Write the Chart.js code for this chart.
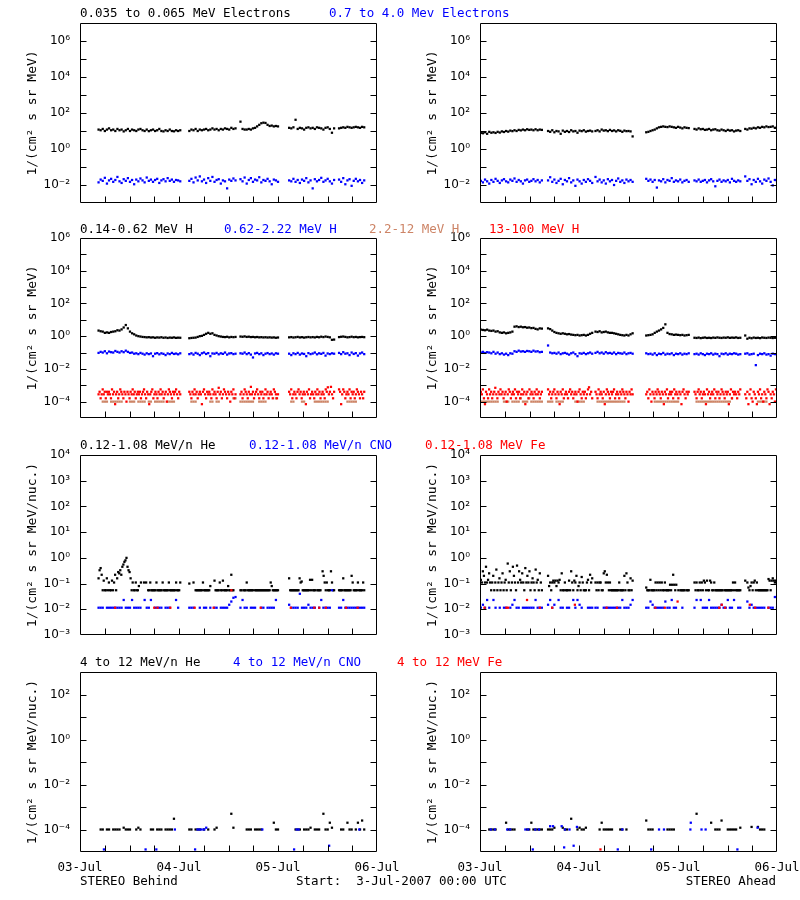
<!DOCTYPE html>
<html>
<head>
<meta charset="utf-8">
<script src="https://cdn.jsdelivr.net/npm/chart.js@4.4.1/dist/chart.umd.min.js"></script>
<style>
body { margin: 0; background: #fff; width: 800px; height: 900px; position: relative; overflow: hidden; font-family: "DejaVu Sans Mono", monospace; font-size: 12.5px; }
.t { position: absolute; white-space: pre; line-height: 14px; }
canvas { position: absolute; }
</style>
</head>
<body>
<script>
// time axis: hours after 3-Jul-2007 00:00 UTC
var dayHours = [0, 24, 48, 72];
var dayLabels = ['03-Jul', '04-Jul', '05-Jul', '06-Jul'];

// data segments (start hour, end hour) - samples spread evenly inside each
var segBehind = [[4.5, 24.3], [26.5, 37.7], [38.9, 48], [50.7, 61.6], [62.8, 68.9]];
var segAhead = [[0.2, 15], [16.5, 27.2], [28, 37], [40.3, 50.6], [52, 63.1], [64.3, 72]];

// ---- row 1 : electrons ----
var eLowBehind = [
  [12,11,13,10,12,14,11,12,10,13,11,12,9.5,11,13,10,12,11,10,12,13,11,10,12,9.8,11,12,10,11,13,10,9.5,11,10,12,10,9.6,11,10,11],
  [10,12,11,13,10,12,11,12,13,11,12,14,12,13,11,13,12,14,13,12,15,13,14],
  [33,13,12,12,13,12,14,15,18,22,27,29,28,22,19,20,18,19,18],
  [15,14,16,42,13,15,14,12,15,16,14,15,13,16,15,14,12,15,16,13,8,14],
  [14,15,16,15,17,16,15,16,17,16,15,17,16]
];
var eHighBehind = [
  [.014,.02,.017,.025,.012,.018,.022,.015,.019,.028,.016,.013,.021,.017,.024,.015,.019,.011,.02,.016,.023,.018,.014,.026,.017,.02,.015,.019,.022,.013,.018,.021,.016,.024,.017,.02,.015,.019,.018,.016],
  [.017,.022,.014,.026,.018,.03,.016,.02,.013,.024,.017,.028,.015,.019,.021,.012,.018,.016,.0065,.02,.017,.023,.018],
  [.021,.016,.026,.012,.019,.024,.015,.02,.018,.027,.014,.019,.017,.022,.016,.011,.02,.018,.015],
  [.018,.016,.022,.015,.019,.013,.02,.017,.024,.014,.018,.0065,.021,.016,.019,.025,.015,.018,.022,.016,.012,.019],
  [.02,.015,.024,.011,.018,.021,.009,.017,.022,.016,.019,.013,.018]
];
var eLowAhead = [
  [8,7.5,8.5,7,9,8,8.5,7.8,9,8.2,9.5,8.8,10,9.2,10.5,9.8,11,10,11.5,10.8,12,11,12.5,11.5,12,11,12.5,11,12,11.5],
  [10,9,11,8.5,10,9.5,7,10.5,9,10,8.8,11,9.5,10,8,10.5,9.8,11,9.2,10,10.5,9.5],
  [10,11,9.5,12,10.5,11,9.8,11.5,10,10.8,9.5,11,10.2,9,10.5,9.8,10,9.5,5],
  [8.5,9,10,11,12,14,16,17,18,17,16.5,18,17,16,15,17,15.5,14,16,15,14.5],
  [13,12,14,12.5,13,11.5,12,13,11,12,12.5,11,10.5,12,11,10,11.5,10.5,11,9.5,10.5,11,10],
  [13,12,14,13.5,15,14,16,15,17,16,18,16.5,17,18,15,16]
];
var eHighAhead = [
  [.017,.014,.02,.016,.012,.019,.015,.022,.017,.013,.018,.021,.016,.014,.02,.017,.023,.015,.019,.016,.012,.018,.02,.015,.017,.021,.016,.019,.014,.018],
  [.018,.027,.015,.02,.013,.017,.022,.011,.019,.016,.024,.014,.018,.009,.02,.016,.012,.019,.015,.021,.017,.013],
  [.028,.016,.02,.014,.018,.012,.021,.016,.019,.01,.017,.023,.015,.018,.013,.02,.016,.019,.015],
  [.022,.017,.02,.015,.019,.0072,.018,.016,.021,.014,.019,.017,.024,.015,.018,.016,.02,.014,.017,.019,.015],
  [.018,.016,.02,.015,.017,.019,.014,.018,.021,.016,.0085,.017,.02,.015,.018,.016,.019,.014,.022,.017,.015,.018,.016],
  [.03,.017,.021,.011,.019,.015,.022,.016,.012,.02,.017,.023,.015,.0095,.019,.016]
];

// ---- row 2 : protons ----
var h1Behind = [
  [2.2,2.0,1.9,1.6,1.7,1.6,1.8,1.9,2.0,2.3,2.2,2.6,3.4,4.8,3.0,1.9,1.5,1.3,1.1,1.0,.95,.9,.88,.85,.87,.83,.85,.8,.84,.82,.86,.8,.83,.78,.82,.8,.84,.79,.81,.8],
  [.75,.78,.8,.82,.9,1.0,1.05,1.2,1.4,1.6,1.4,1.5,1.2,1.1,1.0,.95,.9,.88,.92,.85,.9,.87,.9],
  [.95,.92,.97,.9,.93,.88,.9,.86,.89,.85,.87,.84,.86,.83,.85,.82,.84,.8,.83],
  [.85,.88,.83,.86,.9,.84,.87,.82,.86,.89,.85,.88,.84,.9,.86,.93,.88,.95,.9,.85,.6,.62],
  [.88,.92,.95,.9,.85,.88,.93,.87,.9,.85,.88,.9,.87]
];
var h2Behind = [
  [.095,.11,.1,.12,.09,.115,.105,.1,.125,.11,.1,.12,.105,.13,.11,.095,.1,.085,.09,.08,.095,.085,.075,.09,.08,.088,.06,.085,.092,.078,.09,.083,.07,.088,.08,.095,.082,.087,.078,.09],
  [.08,.09,.075,.095,.085,.07,.09,.1,.082,.092,.06,.088,.085,.095,.078,.09,.083,.1,.075,.088,.092,.08,.085],
  [.09,.085,.1,.08,.092,.075,.05,.088,.095,.08,.09,.07,.085,.093,.08,.088,.075,.09,.085],
  [.085,.07,.09,.08,.095,.075,.088,.082,.06,.092,.08,.087,.1,.078,.09,.083,.095,.065,.088,.08,.09,.085],
  [.095,.08,.105,.085,.09,.07,.1,.082,.092,.065,.088,.1,.08]
];
var h3Behind = [
  [null,null,1e-4,1e-4,1e-4,null,1e-4,1e-4,1e-4,1e-4,1e-4,1e-4,null,null,null,1e-4,1e-4,1e-4,null,1e-4,1e-4,1e-4,1e-4,null,1e-4,1e-4,null,1e-4,1e-4,1e-4,1e-4,1e-4,null,1e-4,1e-4,1e-4,1e-4,null,null,null],
  [null,1e-4,1e-4,1e-4,null,null,null,null,null,null,1e-4,1e-4,null,1e-4,1e-4,null,null,null,null,null,null,1.6e-4,1.6e-4],
  [1e-4,1e-4,1e-4,1e-4,1e-4,1e-4,1e-4,null,null,1e-4,1e-4,1e-4,1e-4,null,null,null,null,1.6e-4,null],
  [null,1e-4,1e-4,null,null,null,1e-4,1e-4,null,null,null,null,1e-4,1e-4,1e-4,1e-4,1e-4,1e-4,1e-4,null,null,null],
  [null,null,null,null,1e-4,1e-4,1e-4,1e-4,1e-4,null,null,null,null]
];
var h4Behind = [
  [2.8e-4,4e-4,1.6e-4,2.8e-4,5.6e-4,2.8e-4,4e-4,1.6e-4,4e-4,2.8e-4,4e-4,2.8e-4,1.6e-4,5.6e-4,2.8e-4,4e-4,7e-5,2.8e-4,4e-4,1.6e-4,
   2.8e-4,5.6e-4,4e-4,2.8e-4,1.6e-4,4e-4,2.8e-4,1e-4,4e-4,2.8e-4,1.6e-4,4e-4,2.8e-4,5.6e-4,2.8e-4,4e-4,1.6e-4,2.8e-4,4e-4,2.8e-4,
   4e-4,1.6e-4,2.8e-4,4e-4,5.6e-4,2.8e-4,1.6e-4,4e-4,2.8e-4,7e-5,2.8e-4,4e-4,5.6e-4,1.6e-4,2.8e-4,4e-4,2.8e-4,1.6e-4,4e-4,2.8e-4,
   5.6e-4,2.8e-4,4e-4,1.6e-4,2.8e-4,4e-4,1e-4,2.8e-4,5.6e-4,4e-4,2.8e-4,1.6e-4,4e-4,2.8e-4,4e-4,5.6e-4,2.8e-4,1.6e-4,4e-4,2.8e-4],
  [4e-4,2.8e-4,1.6e-4,4e-4,2.8e-4,5.6e-4,2.8e-4,4e-4,1.6e-4,2.8e-4,4e-4,2.8e-4,7e-5,4e-4,5.6e-4,2.8e-4,1.6e-4,4e-4,2.8e-4,4e-4,
   2.8e-4,1.6e-4,5.6e-4,2.8e-4,4e-4,2.8e-4,1.6e-4,4e-4,7e-4,2.8e-4,4e-4,1.6e-4,2.8e-4,5.6e-4,4e-4,2.8e-4,1.6e-4,4e-4,2.8e-4,1e-4,
   4e-4,2.8e-4,5.6e-4,1.6e-4,2.8e-4],
  [2.8e-4,4e-4,1.6e-4,2.8e-4,5.6e-4,4e-4,2.8e-4,1.6e-4,4e-4,2.8e-4,8e-4,2.8e-4,4e-4,1.6e-4,2.8e-4,4e-4,5.6e-4,2.8e-4,1.6e-4,4e-4,
   2.8e-4,4e-4,1.6e-4,2.8e-4,5.6e-4,2.8e-4,4e-4,1.6e-4,2.8e-4,4e-4,2.8e-4,1.6e-4,5.6e-4,4e-4,2.8e-4,1.6e-4,2.8e-4],
  [4e-4,2.8e-4,5.6e-4,1.6e-4,2.8e-4,4e-4,2.8e-4,1.6e-4,4e-4,5.6e-4,2.8e-4,4e-4,1.6e-4,2.8e-4,4e-4,2.8e-4,7e-5,4e-4,2.8e-4,5.6e-4,
   1.6e-4,2.8e-4,4e-4,2.8e-4,1.6e-4,4e-4,2.8e-4,5.6e-4,2.8e-4,4e-4,1.6e-4,2.8e-4,4e-4,2.8e-4,1.6e-4,5.6e-4,4e-4,7.5e-4,2.8e-4,4e-4,
   8e-4,2.8e-4,1.6e-4,4e-4],
  [5.6e-4,4e-4,7e-5,2.8e-4,5.6e-4,4e-4,1.6e-4,2.8e-4,4e-4,2.8e-4,5.6e-4,1.6e-4,4e-4,2.8e-4,4e-4,1.6e-4,2.8e-4,5.6e-4,4e-4,2.8e-4,
   1.6e-4,4e-4,2.8e-4,1.6e-4,4e-4]
];
var h1Ahead = [
  [2.5,2.4,2.3,2.5,2.2,2.1,2.2,1.9,2.0,1.7,1.6,1.7,1.5,1.6,1.7,1.9,3.8,4.0,3.6,3.8,3.5,3.6,3.3,3.4,3.1,3.2,2.8,2.6,3.0,2.9],
  [3.0,2.7,2.2,1.8,1.6,1.5,1.4,1.5,1.4,1.3,1.35,1.25,1.2,1.15,1.2,1.1,1.15,1.2,1.1,1.2,1.4,1.6],
  [1.9,1.8,2.0,1.7,1.8,1.9,1.7,1.6,1.6,1.5,1.4,1.3,1.2,1.15,1.1,1.2,1.1,1.3,1.5],
  [1.1,1.15,1.2,1.3,1.6,1.9,2.2,2.6,3.2,5.3,1.6,1.35,1.3,1.2,1.25,1.2,1.15,1.2,1.1,1.15,1.2],
  [.8,.78,.82,.76,.8,.83,.78,.8,.77,.82,.79,.84,.8,.78,.82,.8,.85,.79,.82,.8,.84,.78,.8],
  [1.1,.7,.8,.75,.82,.78,.8,.76,.83,.8,.78,.82,.8,.77,.8,.78]
];
var h2Ahead = [
  [.1,.11,.095,.105,.1,.09,.11,.085,.1,.08,.09,.075,.085,.07,.09,.085,.12,.11,.13,.115,.12,.11,.125,.12,.11,.13,.115,.12,.105,.11],
  [.27,.1,.09,.095,.085,.1,.08,.09,.095,.085,.075,.09,.1,.08,.06,.09,.085,.095,.08,.09,.1,.085],
  [.095,.11,.09,.1,.085,.105,.09,.095,.085,.1,.08,.095,.09,.085,.1,.08,.09,.095,.085],
  [.09,.08,.085,.075,.09,.07,.085,.08,.095,.075,.085,.08,.09,.07,.085,.08,.09,.075,.085,.08,.09],
  [.08,.085,.075,.09,.08,.07,.085,.08,.09,.075,.085,.08,.06,.085,.08,.09,.075,.085,.08,.09,.085,.075,.08],
  [.085,.09,.075,.08,.085,.017,.07,.085,.08,.09,.075,.08,.065,.085,.08,.075]
];
var h3Ahead = [
  [1e-4,1e-4,1e-4,1e-4,1e-4,1e-4,1e-4,1e-4,1e-4,null,null,1e-4,1e-4,1e-4,null,1e-4,1e-4,1e-4,1e-4,1.6e-4,1e-4,1e-4,1e-4,1.6e-4,1e-4,1e-4,1e-4,1e-4,1e-4,1e-4],
  [1e-4,1e-4,1e-4,null,1e-4,1e-4,1e-4,1e-4,null,null,null,null,null,1e-4,1e-4,1e-4,1e-4,1e-4,null,null,null,null],
  [null,1e-4,1e-4,1e-4,1e-4,1e-4,1e-4,1e-4,1e-4,1e-4,1e-4,1e-4,1e-4,1e-4,1e-4,null,null,null,null],
  [null,null,null,null,1e-4,1e-4,1e-4,1e-4,1e-4,1e-4,1e-4,1e-4,1e-4,1e-4,1e-4,1e-4,null,null,null,null,null],
  [null,1e-4,1e-4,1e-4,1e-4,1e-4,1e-4,1e-4,1e-4,1e-4,1e-4,1e-4,1e-4,1e-4,1e-4,1e-4,1e-4,1e-4,1.6e-4,null,null,null,null],
  [null,null,null,null,null,null,1e-4,1e-4,1e-4,1e-4,1e-4,null,null,null,null,null]
];
var h4Ahead = [
  [4e-4,2.8e-4,5.6e-4,1.6e-4,7e-5,4e-4,2.8e-4,1.6e-4,5.6e-4,2.8e-4,4e-4,1.6e-4,2.8e-4,4e-4,7e-4,2.8e-4,1.6e-4,4e-4,2.8e-4,5.6e-4,
   2.8e-4,4e-4,1.6e-4,2.8e-4,4e-4,1e-4,2.8e-4,5.6e-4,4e-4,1.6e-4,2.8e-4,4e-4,2.8e-4,5.6e-4,1.6e-4,4e-4,2.8e-4,4e-4,1.6e-4,2.8e-4,
   5.6e-4,2.8e-4,4e-4,7e-5,2.8e-4,4e-4,1.6e-4,5.6e-4,2.8e-4,4e-4,2.8e-4,1.6e-4,4e-4,2.8e-4,5.6e-4,2.8e-4,4e-4,1.6e-4,2.8e-4,4e-4],
  [5.6e-4,2.8e-4,4e-4,1.6e-4,2.8e-4,4e-4,5.6e-4,2.8e-4,1.6e-4,4e-4,2.8e-4,7e-5,4e-4,2.8e-4,5.6e-4,1.6e-4,2.8e-4,4e-4,2.8e-4,1.6e-4,
   4e-4,5.6e-4,2.8e-4,4e-4,1.6e-4,2.8e-4,4e-4,2.8e-4,1e-4,4e-4,5.6e-4,2.8e-4,1.6e-4,4e-4,2.8e-4,4e-4,1.6e-4,2.8e-4,5.6e-4,7.5e-4,
   2.8e-4,4e-4,1.6e-4],
  [4e-4,2.8e-4,1.6e-4,5.6e-4,2.8e-4,4e-4,2.8e-4,1.6e-4,4e-4,7e-5,2.8e-4,5.6e-4,4e-4,2.8e-4,1.6e-4,4e-4,2.8e-4,4e-4,5.6e-4,1.6e-4,
   2.8e-4,4e-4,2.8e-4,1.6e-4,4e-4,2.8e-4,5.6e-4,4e-4,2.8e-4,1.6e-4,4e-4,2.8e-4,1e-4,4e-4,2.8e-4,5.6e-4,2.8e-4],
  [2.8e-4,4e-4,1.6e-4,5.6e-4,2.8e-4,1e-4,4e-4,2.8e-4,1.6e-4,4e-4,2.8e-4,5.6e-4,4e-4,2.8e-4,1.6e-4,4e-4,2.8e-4,7e-5,4e-4,2.8e-4,
   5.6e-4,1.6e-4,2.8e-4,4e-4,2.8e-4,4e-4,1.6e-4,5.6e-4,2.8e-4,4e-4,2.8e-4,1.6e-4,4e-4,2.8e-4,7e-5,4e-4,5.6e-4,2.8e-4,1.6e-4,4e-4,
   2.8e-4,4e-4],
  [4e-4,2.8e-4,1.6e-4,4e-4,5.6e-4,2.8e-4,4e-4,1.6e-4,2.8e-4,4e-4,2.8e-4,7e-5,5.6e-4,2.8e-4,4e-4,1.6e-4,2.8e-4,4e-4,2.8e-4,5.6e-4,
   1.6e-4,4e-4,2.8e-4,4e-4,1.6e-4,2.8e-4,5.6e-4,4e-4,2.8e-4,1.6e-4,4e-4,2.8e-4,4e-4,7e-5,2.8e-4,5.6e-4,1.6e-4,4e-4,2.8e-4,4e-4,
   2.8e-4,1.6e-4,4e-4,2.8e-4,5.6e-4],
  [2.8e-4,1.6e-4,4e-4,7e-5,2.8e-4,5.6e-4,1.6e-4,1e-4,4e-4,2.8e-4,1.6e-4,7e-5,4e-4,2.8e-4,5.6e-4,1.6e-4,2.8e-4,1e-4,4e-4,2.8e-4,
   1.6e-4,5.6e-4,4e-4,7e-5,2.8e-4,1.6e-4,4e-4,2.8e-4,1e-4,5.6e-4,2.8e-4]
];

// ---- row 3 : 0.12-1.08 MeV/n heavy ions ----
var heBehind = [
  [.16,.33,.4,.22,.055,.13,.055,.055,.16,.055,.11,.055,.055,.13,.055,.11,.22,.055,.16,.28,
   .25,.33,.22,.45,.55,.7,.8,1.0,.45,.33,.28,.16,.055,.11,.055,.055,.11,.055,.055,.08,
   null,.11,null,null,.11,null,.11,null,.055,.055,.11,.055,.055,.055,.055,.055,.11,.055,.055,.055,
   .055,.055,.11,.055,.055,.055,.055,.055,.11,.055,.055,.055,.055,.055,.055,.11,.055,.055,.055,.11],
  [.1,null,null,null,.11,null,.055,.055,.055,.055,.055,.055,.055,.11,.055,.055,.055,.055,.055,.055,
   .08,null,null,null,.13,.055,.055,.055,.055,.11,.055,.055,.13,.055,.055,.055,.055,.08,.055,.055,
   .22,.055,.055,null,null],
  [.055,.055,null,.055,.055,.055,.11,.055,.055,.055,.055,.055,.055,null,.055,.055,.055,.055,.055,.055,
   .055,.055,.055,.055,.055,.055,.055,.055,.055,.11,.08,.055,.055,.055,.055,.055,.055],
  [.16,.055,.055,.055,.055,.055,.055,.055,.055,.055,.16,.11,.12,.055,.055,.055,.055,.055,.055,.055,
   .14,.055,.14,.055,.055,.055,null,.055,.055,.055,.055,null,.3,.2,.11,.055,.11,.055,.055,.055,
   .3,.11,.055,.055],
  [.055,.055,.055,.055,.16,.055,.055,.055,.055,.055,.055,.055,.2,.11,.055,.055,.055,.055,.11,.055,
   .055,.055,.055,.11,.055]
];
var cnoBehind = [
  [.0115,.0115,.0115,null,.0115,.0115,.0115,.0115,.0115,.0115,.0115,.0115,.023,.0115,.0115,.0115,.023,.0115,.0115,.0115,
   .0115,null,.023,.0115,.0115,.023,null,.0115,.0115,.0115,.0115,null,.0115,.0115,.0115,null,null,.023,.0115,null],
  [.0115,.0115,.0115,null,null,.0115,null,.0115,.0115,null,.0115,null,.0115,.0115,null,.0115,.0115,.0115,.0115,.015,.02,.028,.03],
  [.0115,.023,.0115,.0115,null,.0115,.0115,.0115,null,null,.0115,.0115,null,.0115,.0115,.0115,.0115,.023,null],
  [.015,.0115,.0115,.0115,.0115,.04,.0115,.0115,.0115,.015,.0115,.0115,.0115,null,.0115,.023,.0115,.0115,.0115,.0115,.055,null],
  [.0115,.0115,.023,.0115,.0115,.0115,.0115,.0115,.0115,.0115,.0115,.0115,.0115]
];
var feBehindHours = [8.5, 18, 18.8, 21.9, 27.8, 32.4, 36.7, 43.8, 51.1, 56.8, 58, 59.6, 64.5, 67.3];
var feBehindFlux = [.0115,.0115,.0115,.0115,.0115,.0115,.055,.0115,.0115,.0115,.0115,.0115,.0115,.0115];

var heAhead = [
  [.14,.11,.3,.2,.11,.45,.11,.14,.25,.11,.055,.11,.2,.055,.11,.35,.055,.11,.16,.055,
   .11,.25,.055,.11,.14,.055,.6,.11,.3,.055,.11,.45,.2,.11,.055,.5,.11,.3,.14,.11,
   .25,.11,.055,.4,.11,.2,.11,.3,.055,.11,.16,.11,.055,.35,.11,.14,.055,.25,.11,.055],
  [.2,.08,.11,.055,.11,.13,.11,.13,.08,.13,.11,.14,.055,.25,.055,.055,.11,.055,.055,.055,
   .13,.055,.3,.11,.055,.13,.11,.2,.055,.08,.11,.055,.18,.11,.055,.055,.055,.11,.14,.055,
   .22,.11,.16],
  [.11,.055,.11,.055,.11,.11,.055,.055,.25,.3,.11,.22,.11,.055,.11,.055,.055,.055,.055,.055,
   .055,.055,.055,.11,.055,.055,.055,.055,.2,.055,.25,.11,.055,.055,.16,.055,.13],
  [.07,.055,.055,.055,.14,.055,.055,.055,.055,.11,.055,.11,.055,.11,.055,.11,.055,.055,.11,.055,
   .055,.055,.055,.09,.055,.09,.22,.09,.055,.09,null,.055,null,.055,.055,.055,.055,.055,null,.055,
   .055,.055],
  [.11,.055,.11,.055,.055,.11,.055,.11,.055,.13,.11,.055,.13,.055,.055,.13,.11,.055,.055,.11,
   .055,.055,.055,.055,.055,.055,.055,.055,null,.055,.055,.055,.055,.055,.055,.055,.055,.11,.055,.11,
   .055,.055,.055,.055,.055],
  [.13,null,.11,.07,.055,.08,.11,.055,.11,.13,.055,.11,.055,.055,.055,.055,.055,.055,.055,.055,
   .055,.055,.15,.13,.055,.13,.16,.13,.11,.13,.13]
];
var cnoAhead = [
  [.0115,.015,.0115,.023,.0115,null,.023,.0115,null,.0115,null,.0115,.0115,null,.0115,.015,.023,.0115,.0115,null,
   .0115,.0115,.0115,.0115,.0115,.0115,.023,.0115,.0115,.0115],
  [.015,.023,.0115,.015,null,.023,.0115,.0115,null,.0115,.0115,null,.023,.0115,.023,.015,.0115,null,null,.0115,.0115,.0115],
  [.0115,.0115,null,null,.0115,.0115,.0115,.0115,.0115,.0115,.0115,.0115,.0115,.023,.0115,.0115,.0115,.015,.023],
  [.0115,.0115,.02,.015,.0115,.0115,.0115,.0115,.0115,.02,.0115,.0115,.023,.0115,.0115,null,null,.0115,null,null,null],
  [.0115,.023,null,.023,.0115,.0115,.0115,.023,.0115,.0115,.0115,.0115,.0115,.015,.0115,.0115,.023,.0115,.0115,.023,null,.0115,.0115],
  [null,.02,.0115,.015,.0115,.0115,.0115,.0115,.0115,.0115,null,.0115,.0115,.0115,.03,.0115]
];
var feAheadHours = [1.1, 6.4, 6.8, 11.4, 14.5, 17.5, 23, 30.7, 33.2, 42.5, 44.8, 47.9, 58, 58.6, 59.4, 65.4, 66.7, 69.9];
var feAheadFlux = [.0115,.0115,.0115,.023,.0115,.0115,.015,.0115,.0115,.0115,.0115,.02,.0115,.015,.0115,.015,.0115,.0115];

// ---- row 4 : 4-12 MeV/n heavy ions ----
var he4Behind = [
  [null,1e-4,1e-4,null,1e-4,1e-4,null,1e-4,1e-4,1e-4,1e-4,null,1.2e-4,1e-4,1e-4,1e-4,null,null,1e-4,1.2e-4,
   1e-4,null,null,null,null,1e-4,1e-4,null,1e-4,1e-4,1e-4,null,1e-4,1e-4,1e-4,1e-4,3e-4,null,null,null],
  [1e-4,1e-4,null,1e-4,1e-4,1e-4,null,1e-4,null,1e-4,null,null,1e-4,1.2e-4,null,null,null,null,null,null,5e-4,1.2e-4,null],
  [null,null,null,1e-4,1e-4,1e-4,null,1e-4,1e-4,1e-4,1e-4,null,null,null,null,null,2e-4,1e-4,1e-4],
  [null,null,null,1e-4,1e-4,1e-4,null,1e-4,1e-4,1e-4,1.2e-4,null,1e-4,1e-4,1e-4,null,5e-4,1e-4,1e-4,2e-4,1.2e-4,null],
  [null,1e-4,1e-4,null,2e-4,1e-4,1e-4,null,1e-4,2e-4,1e-4,2.5e-4,1e-4]
];
var cno4BehindHours = [5.8, 15.9, 18.5, 23, 27.9, 28.5, 29, 29.5, 30.1, 30.6, 44.2, 51.9, 52.5, 53, 60.4, 67.7];
var cno4BehindFlux = [1.3e-5,1.3e-5,1.3e-5,1e-4,1.3e-5,1e-4,1e-4,1e-4,1e-4,1.2e-4,1e-4,1.3e-5,1e-4,1e-4,1.9e-5,1e-4];
var fe4BehindHours = [];
var fe4BehindFlux = [];

var he4Ahead = [
  [null,null,null,null,1e-4,1e-4,1e-4,1e-4,null,null,null,null,2e-4,1e-4,1e-4,1e-4,1e-4,null,null,null,
   null,null,1e-4,1e-4,2e-4,1e-4,1e-4,1e-4,1e-4,1e-4],
  [1e-4,1e-4,1e-4,1.2e-4,null,null,null,1.2e-4,1e-4,1e-4,null,3e-4,null,null,1e-4,1.2e-4,1e-4,1e-4,1.2e-4,null,null,null],
  [null,null,1e-4,2e-4,1e-4,1e-4,1e-4,1e-4,1e-4,null,null,null,1e-4,1e-4,null,1e-4,null,null,null],
  [2.5e-4,1e-4,1e-4,1e-4,null,null,null,null,null,null,1e-4,1e-4,1e-4,1e-4,null,null,null,null,null,null,null],
  [null,5e-4,null,null,null,null,null,null,2e-4,null,1e-4,1e-4,1e-4,2.5e-4,null,null,1e-4,1e-4,1e-4,1e-4,1e-4,null,1.2e-4],
  [null,null,null,1.3e-4,null,null,1.3e-4,1e-4,1e-4,1e-4,null,null,null,null,null,null]
];
var cno4AheadHours = [2.6, 3.6, 6.6, 7.3, 11, 11.7, 12.8, 13.4, 14.3, 17, 17.7, 19.8, 20.4, 20.6, 21.7, 22.7, 23.5, 33.4, 34.5, 41.5, 43.4, 44.6, 51, 51.1, 53.7, 54.7, 62.4, 67.3];
var cno4AheadFlux = [1e-4,1e-4,1e-4,1e-4,1e-4,1e-4,1.3e-5,1e-4,1e-4,1.4e-4,1.4e-4,1.4e-4,1.6e-5,1e-4,1e-4,1.9e-5,1.3e-4,1.3e-5,1e-4,1.3e-5,1e-4,1e-4,1e-4,2e-4,1e-4,1e-4,1.3e-5,1.2e-4];
var fe4AheadHours = [29.2];
var fe4AheadFlux = [1.3e-5];

// axis ranges (decades) and labelled decades per row
var yMinExp = [-3, -5, -3, -5];
var yMaxExp = [7, 6, 4, 3];
var yLabelExp = [[-2, 0, 2, 4, 6], [-4, -2, 0, 2, 4, 6], [-3, -2, -1, 0, 1, 2, 3, 4], [-4, -2, 0, 2]];
var yTitles = ['1/(cm\u00b2 s sr MeV)', '1/(cm\u00b2 s sr MeV)', '1/(cm\u00b2 s sr MeV/nuc.)', '1/(cm\u00b2 s sr MeV/nuc.)'];

var BLACK = '#000000', BLUE = '#0000ff', BROWN = '#cd8466', RED = '#ff0000';

// layout
var rowTop = [23, 238, 455, 672];
var PLOT_H = 180;

function segPoints(segs, arrs) {
    var pts = [];
    for (var k = 0; k < segs.length; k++) {
        var a = arrs[k], s0 = segs[k][0], s1 = segs[k][1];
        for (var j = 0; j < a.length; j++) {
            if (a[j] === null) continue;
            var t = a.length > 1 ? s0 + j * (s1 - s0) / (a.length - 1) : s0;
            pts.push({ x: t, y: a[j] });
        }
    }
    return pts;
}

function pairPoints(hours, flux) {
    return hours.map(function (h, i) { return { x: h, y: flux[i] }; });
}

var supMap = { '-': '\u207b', '0': '\u2070', '1': '\u00b9', '2': '\u00b2', '3': '\u00b3', '4': '\u2074', '5': '\u2075', '6': '\u2076', '7': '\u2077', '8': '\u2078', '9': '\u2079' };
function powLabel(v) {
    var e = Math.round(Math.log10(v));
    return '10' + String(e).split('').map(function (c) { return supMap[c]; }).join('');
}

// IDL style frame with inward ticks
var framePlugin = {
    id: 'frame',
    afterDatasetsDraw: function (chart, args, opts) {
        var ctx = chart.ctx, a = chart.chartArea, x = chart.scales.x, y = chart.scales.y;
        var L = Math.round(a.left) + 0.5, R = Math.round(a.right) - 0.5;
        var T = Math.round(a.top) + 0.5, B = Math.round(a.bottom) - 0.5;
        ctx.save();
        ctx.strokeStyle = '#000';
        ctx.lineWidth = 1;
        ctx.beginPath();
        ctx.rect(L, T, R - L, B - T);
        for (var e = opts.minExp + 1; e < opts.maxExp; e++) {
            var py = Math.round(y.getPixelForValue(Math.pow(10, e))) + 0.5;
            ctx.moveTo(L, py); ctx.lineTo(L + 6, py);
            ctx.moveTo(R, py); ctx.lineTo(R - 6, py);
        }
        for (var h = 6; h < 72; h += 6) {
            var px = Math.round(x.getPixelForValue(h)) + 0.5;
            ctx.moveTo(px, B); ctx.lineTo(px, B - 6);
        }
        ctx.stroke();
        ctx.restore();
    }
};

function addText(x, cy, txt, color, alignRight) {
    var d = document.createElement('div');
    d.className = 't';
    d.textContent = txt;
    d.style.color = color;
    d.style.top = (cy - 7) + 'px';
    if (alignRight) d.style.right = (800 - x) + 'px';
    else d.style.left = x + 'px';
    document.body.appendChild(d);
}

function buildPanel(col, row, sets) {
    var last = row === 3;
    var cv = document.createElement('canvas');
    cv.width = 400;
    cv.height = 12 + PLOT_H + (last ? 28 : 8);
    cv.style.left = (col * 400) + 'px';
    cv.style.top = (rowTop[row] - 12) + 'px';
    document.body.appendChild(cv);

    new Chart(cv, {
        type: 'scatter',
        data: {
            datasets: sets.map(function (s) {
                return {
                    data: s.pts, backgroundColor: s.color, borderWidth: 0,
                    pointStyle: 'rect', pointRadius: 1.6, pointHoverRadius: 1.6, order: s.order
                };
            })
        },
        options: {
            responsive: false, animation: false, devicePixelRatio: 1, events: [],
            layout: { padding: { left: 0, right: 23, top: 12, bottom: last ? 0 : 8 } },
            plugins: { legend: { display: false }, tooltip: { enabled: false },
                       frame: { minExp: yMinExp[row], maxExp: yMaxExp[row] } },
            scales: {
                x: {
                    type: 'linear', min: 0, max: 72, display: last,
                    grid: { display: false, drawTicks: false }, border: { display: false },
                    afterBuildTicks: function (s) { s.ticks = dayHours.map(function (v) { return { value: v }; }); },
                    afterFit: function (s) {
                        s.height = last ? 28 : 0;
                        s.paddingLeft = 0; s.paddingRight = 0;
                    },
                    ticks: {
                        autoSkip: false, maxRotation: 0, padding: 8, color: '#000',
                        font: { family: 'DejaVu Sans Mono', size: 12.5 },
                        callback: function (v, i) { return dayLabels[i]; }
                    }
                },
                y: {
                    type: 'logarithmic', min: Math.pow(10, yMinExp[row]), max: Math.pow(10, yMaxExp[row]),
                    grid: { display: false, drawTicks: false }, border: { display: false },
                    afterFit: function (s) {
                        s.width = 80;
                        s.paddingTop = 0; s.paddingBottom = 0;
                    },
                    afterBuildTicks: function (s) { s.ticks = yLabelExp[row].map(function (e) { return { value: Math.pow(10, e) }; }); },
                    ticks: {
                        autoSkip: false, padding: 10, color: '#000',
                        font: { family: 'DejaVu Sans', size: 12 },
                        callback: function (v) { return powLabel(v); }
                    },
                    title: {
                        display: true, text: yTitles[row], color: '#000',
                        font: { family: 'DejaVu Sans Mono', size: 13 }, padding: { top: 25, bottom: 0 }
                    }
                }
            }
        },
        plugins: [framePlugin]
    });
}

// panels
buildPanel(0, 0, [
    { pts: segPoints(segBehind, eLowBehind), color: BLACK, order: 3 },
    { pts: segPoints(segBehind, eHighBehind), color: BLUE, order: 2 }
]);
buildPanel(1, 0, [
    { pts: segPoints(segAhead, eLowAhead), color: BLACK, order: 3 },
    { pts: segPoints(segAhead, eHighAhead), color: BLUE, order: 2 }
]);
buildPanel(0, 1, [
    { pts: segPoints(segBehind, h1Behind), color: BLACK, order: 3 },
    { pts: segPoints(segBehind, h2Behind), color: BLUE, order: 2 },
    { pts: segPoints(segBehind, h3Behind), color: BROWN, order: 1 },
    { pts: segPoints(segBehind, h4Behind), color: RED, order: 0 }
]);
buildPanel(1, 1, [
    { pts: segPoints(segAhead, h1Ahead), color: BLACK, order: 3 },
    { pts: segPoints(segAhead, h2Ahead), color: BLUE, order: 2 },
    { pts: segPoints(segAhead, h3Ahead), color: BROWN, order: 1 },
    { pts: segPoints(segAhead, h4Ahead), color: RED, order: 0 }
]);
buildPanel(0, 2, [
    { pts: segPoints(segBehind, heBehind), color: BLACK, order: 3 },
    { pts: segPoints(segBehind, cnoBehind), color: BLUE, order: 2 },
    { pts: pairPoints(feBehindHours, feBehindFlux), color: RED, order: 0 }
]);
buildPanel(1, 2, [
    { pts: segPoints(segAhead, heAhead), color: BLACK, order: 3 },
    { pts: segPoints(segAhead, cnoAhead), color: BLUE, order: 2 },
    { pts: pairPoints(feAheadHours, feAheadFlux), color: RED, order: 0 }
]);
buildPanel(0, 3, [
    { pts: segPoints(segBehind, he4Behind), color: BLACK, order: 3 },
    { pts: pairPoints(cno4BehindHours, cno4BehindFlux), color: BLUE, order: 2 },
    { pts: pairPoints(fe4BehindHours, fe4BehindFlux), color: RED, order: 0 }
]);
buildPanel(1, 3, [
    { pts: segPoints(segAhead, he4Ahead), color: BLACK, order: 3 },
    { pts: pairPoints(cno4AheadHours, cno4AheadFlux), color: BLUE, order: 2 },
    { pts: pairPoints(fe4AheadHours, fe4AheadFlux), color: RED, order: 0 }
]);

// panel titles (coloured legend lines)
addText(80, 13, '0.035 to 0.065 MeV Electrons', BLACK);
addText(329, 13, '0.7 to 4.0 Mev Electrons', BLUE);
addText(80, 229, '0.14-0.62 MeV H', BLACK);
addText(224, 229, '0.62-2.22 MeV H', BLUE);
addText(369, 229, '2.2-12 MeV H', BROWN);
addText(489, 229, '13-100 MeV H', RED);
addText(80, 445, '0.12-1.08 MeV/n He', BLACK);
addText(249, 445, '0.12-1.08 MeV/n CNO', BLUE);
addText(425, 445, '0.12-1.08 MeV Fe', RED);
addText(80, 662, '4 to 12 MeV/n He', BLACK);
addText(233, 662, '4 to 12 MeV/n CNO', BLUE);
addText(397, 662, '4 to 12 MeV Fe', RED);

// footer
addText(80, 881, 'STEREO Behind', BLACK);
addText(296, 881, 'Start:  3-Jul-2007 00:00 UTC', BLACK);
addText(776, 881, 'STEREO Ahead', BLACK, true);
</script>
</body>
</html>
